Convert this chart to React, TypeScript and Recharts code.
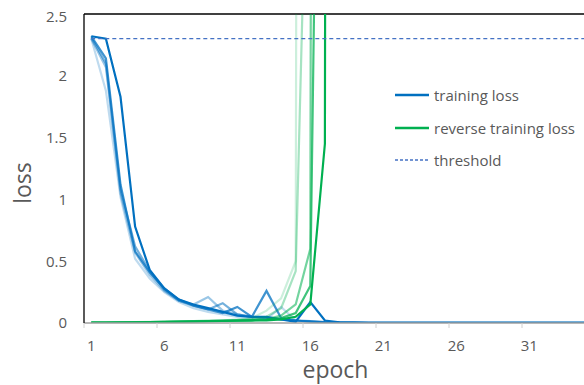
import React from "react";
import { LineChart, Line, XAxis, YAxis, Legend, ReferenceLine } from "recharts";

// epochs 1..35
const epochs = [
  1, 2, 3, 4, 5, 6, 7, 8, 9, 10, 11, 12, 13, 14, 15, 16, 17, 18, 19, 20,
  21, 22, 23, 24, 25, 26, 27, 28, 29, 30, 31, 32, 33, 34, 35,
];

// training loss runs (darkest first)
const train1 = [2.32, 2.30, 1.83, 0.78, 0.43, 0.28, 0.19, 0.15, 0.12, 0.09, 0.06, 0.05, 0.05, 0.03, 0.01, 0.17, 0.02, 0.006, 0.003, 0.002, 0.002, 0.001, 0.001, 0.001, 0.001, 0.001, 0.001, 0.001, 0.001, 0.001, 0.001, 0.001, 0.001, 0.001, 0.001];
const train2 = [2.32, 2.14, 1.12, 0.58, 0.41, 0.28, 0.19, 0.14, 0.11, 0.08, 0.13, 0.05, 0.26, 0.04, 0.02, 0.015, 0.008, 0.004, 0.003, 0.002, 0.002, 0.001, 0.001, 0.001, 0.001, 0.001, 0.001, 0.001, 0.001, 0.001, 0.001, 0.001, 0.001, 0.001, 0.001];
const train3 = [2.31, 2.10, 1.08, 0.62, 0.42, 0.27, 0.18, 0.14, 0.11, 0.16, 0.07, 0.05, 0.04, 0.03, 0.02, 0.012, 0.006, 0.004, 0.003, 0.002, 0.001, 0.001, 0.001, 0.001, 0.001, 0.001, 0.001, 0.001, 0.001, 0.001, 0.001, 0.001, 0.001, 0.001, 0.001];
const train4 = [2.30, 2.07, 1.05, 0.57, 0.39, 0.26, 0.18, 0.15, 0.21, 0.10, 0.07, 0.05, 0.04, 0.03, 0.02, 0.01, 0.006, 0.004, 0.002, 0.001, 0.001, 0.001, 0.001, 0.001, 0.001, 0.001, 0.001, 0.001, 0.001, 0.001, 0.001, 0.001, 0.001, 0.001, 0.001];
const train5 = [2.30, 1.88, 1.02, 0.52, 0.36, 0.25, 0.17, 0.12, 0.09, 0.07, 0.05, 0.04, 0.03, 0.13, 0.02, 0.01, 0.006, 0.003, 0.002, 0.001, 0.001, 0.001, 0.001, 0.001, 0.001, 0.001, 0.001, 0.001, 0.001, 0.001, 0.001, 0.001, 0.001, 0.001, 0.001];

// reverse training loss runs (they blow up, then stop)
const rev1 = [0.003, 0.003, 0.004, 0.005, 0.006, 0.008, 0.01, 0.012, 0.014, 0.016, 0.018, 0.02, 0.022, 0.03, 0.05, 0.15, 1.45, 80, null, null, null, null, null, null, null, null, null, null, null, null, null, null, null, null, null];
const rev2 = [0.003, 0.004, 0.005, 0.006, 0.007, 0.009, 0.011, 0.013, 0.015, 0.017, 0.02, 0.023, 0.027, 0.04, 0.08, 0.3, 9, null, null, null, null, null, null, null, null, null, null, null, null, null, null, null, null, null, null];
const rev3 = [0.003, 0.004, 0.005, 0.006, 0.008, 0.01, 0.012, 0.014, 0.016, 0.018, 0.021, 0.025, 0.03, 0.06, 0.15, 0.6, 60, null, null, null, null, null, null, null, null, null, null, null, null, null, null, null, null, null, null];
const rev4 = [0.003, 0.004, 0.005, 0.006, 0.008, 0.01, 0.012, 0.015, 0.018, 0.021, 0.025, 0.03, 0.05, 0.12, 0.42, 5.0, null, null, null, null, null, null, null, null, null, null, null, null, null, null, null, null, null, null, null];
const rev5 = [0.003, 0.004, 0.005, 0.007, 0.009, 0.011, 0.013, 0.016, 0.019, 0.022, 0.027, 0.04, 0.1, 0.2, 0.5, 60, null, null, null, null, null, null, null, null, null, null, null, null, null, null, null, null, null, null, null];

const threshold = 2.3;

const xTicks = [1, 6, 11, 16, 21, 26, 31];
const yTicks = [0, 0.5, 1, 1.5, 2, 2.5];

const BLUE = "#0070C0";
const GREEN = "#00B050";
const TEXT = "#595959";

const data = epochs.map((e, i) => ({
  epoch: e,
  t1: train1[i], t2: train2[i], t3: train3[i], t4: train4[i], t5: train5[i],
  r1: rev1[i], r2: rev2[i], r3: rev3[i], r4: rev4[i], r5: rev5[i],
  thr: threshold,
}));

const W = 600;
const H = 377;
const Y_AXIS_W = 76;
const RIGHT = 13;
const HALF = (W - Y_AXIS_W - RIGHT) / epochs.length / 2;
const TICK_MARGIN = 11;

const EpochTick = (props: any) => {
  const { x, y, payload } = props;
  const axisY = y - 6 - TICK_MARGIN;
  return (
    <g>
      <line x1={x - HALF} x2={x - HALF} y1={axisY} y2={axisY + 5} stroke="#D0D0D0" />
      <text x={x} y={y} dy="0.71em" textAnchor="middle" fill={TEXT} fontSize={15}>
        {payload.value}
      </text>
    </g>
  );
};

const LossLabel = () => (
  <text
    x={14}
    y={175}
    transform="rotate(-90, 14, 175)"
    textAnchor="middle"
    dominantBaseline="central"
    fill={TEXT}
    fontSize={23}
  >
    loss
  </text>
);

const LegendBox = () => {
  const rows = [
    { label: "training loss", color: BLUE, dash: undefined as string | undefined, w: 2.5 },
    { label: "reverse training loss", color: GREEN, dash: undefined, w: 2.5 },
    { label: "threshold", color: "#4472C4", dash: "3 2", w: 1.3 },
  ];
  return (
    <div>
      {rows.map((r) => (
        <div key={r.label} style={{ display: "flex", alignItems: "center", height: 32.5 }}>
          <svg width={36} height={10} style={{ marginRight: 3 }}>
            <line x1={0} x2={34} y1={5} y2={5} stroke={r.color} strokeWidth={r.w} strokeDasharray={r.dash} />
          </svg>
          <span style={{ color: TEXT, fontSize: 15, whiteSpace: "nowrap" }}>{r.label}</span>
        </div>
      ))}
    </div>
  );
};

const trainRuns = [
  { key: "t5", op: 0.25 },
  { key: "t4", op: 0.4 },
  { key: "t3", op: 0.55 },
  { key: "t2", op: 0.75 },
  { key: "t1", op: 1 },
];
const revRuns = [
  { key: "r5", op: 0.2 },
  { key: "r4", op: 0.35 },
  { key: "r3", op: 0.55 },
  { key: "r2", op: 0.75 },
  { key: "r1", op: 1 },
];

export default function App() {
  return (
    <div
      style={{
        position: "fixed",
        left: 0,
        top: 0,
        width: 584,
        height: 385,
        overflow: "hidden",
        background: "#fff",
        fontFamily: "'Open Sans', sans-serif",
      }}
    >
      <div style={{ position: "absolute", left: 8, top: 8 }}>
        <LineChart width={W} height={H} data={data} margin={{ top: 6, right: RIGHT, left: 0, bottom: 2 }}>
          <XAxis
            dataKey="epoch"
            type="number"
            domain={[0.5, 35.5]}
            ticks={xTicks}
            interval={0}
            tickLine={false}
            tickMargin={TICK_MARGIN}
            tick={<EpochTick />}
            height={60}
            axisLine={{ stroke: "#A0A0A0", strokeWidth: 1.3 }}
            label={{ value: "epoch", position: "insideBottom", offset: 5, dx: -4, fill: TEXT, fontSize: 23 }}
          />
          <YAxis
            type="number"
            domain={[0, 2.5]}
            ticks={yTicks}
            allowDataOverflow
            width={Y_AXIS_W}
            tickLine={false}
            tickMargin={11}
            tick={{ fill: TEXT, fontSize: 15 }}
            axisLine={{ stroke: "#000", strokeWidth: 1.3 }}
            label={<LossLabel />}
          />
          <ReferenceLine y={2.5} stroke="#000" strokeWidth={1.3} />
          {trainRuns.map((r) => (
            <Line key={r.key} dataKey={r.key} type="linear" stroke={BLUE} strokeOpacity={r.op} strokeWidth={2.2} dot={false} isAnimationActive={false} />
          ))}
          {revRuns.map((r) => (
            <Line key={r.key} dataKey={r.key} type="linear" stroke={GREEN} strokeOpacity={r.op} strokeWidth={2.2} dot={false} isAnimationActive={false} />
          ))}
          <Line dataKey="thr" type="linear" stroke="#4472C4" strokeWidth={1.3} strokeDasharray="4 3" dot={false} isAnimationActive={false} />
          <Legend
            layout="vertical"
            align="center"
            verticalAlign="middle"
            content={<LegendBox />}
            wrapperStyle={{ left: 387, top: 71, width: 200 }}
          />
        </LineChart>
      </div>
    </div>
  );
}
